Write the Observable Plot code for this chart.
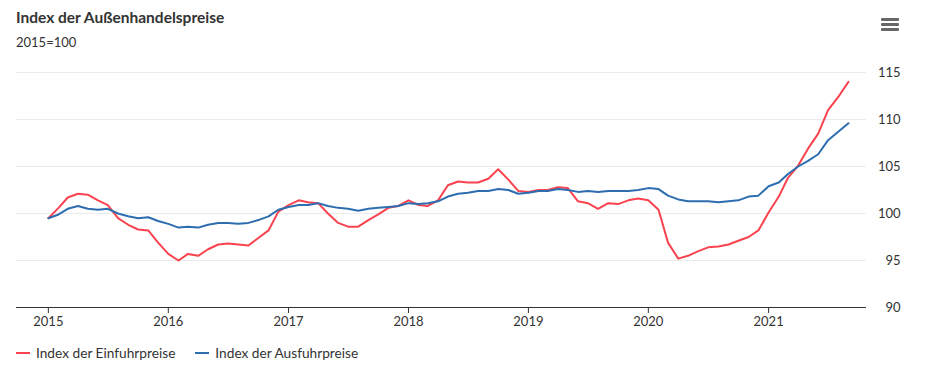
<!DOCTYPE html>
<html><head><meta charset="utf-8">
<script src="https://cdn.jsdelivr.net/npm/d3@7"></script>
<script src="https://cdn.jsdelivr.net/npm/@observablehq/plot@0.6"></script>
<style>
body{margin:0;background:#fff;font-family:"Source Sans Pro",Lato,sans-serif;color:#333;}
#wrap{position:relative;width:941px;height:372px;overflow:hidden;}
#title{position:absolute;left:16px;top:8px;font-size:15.5px;font-weight:700;color:#333;}
#sub{position:absolute;left:16px;top:34px;font-size:13px;color:#333;}
#menu{position:absolute;left:881px;top:18px;width:18px;}
#menu div{height:3px;background:#666;margin-bottom:2px;border-radius:1px;}
#chart{position:absolute;left:0;top:0;}
#legend{position:absolute;left:16px;top:344px;font-size:13.7px;color:#333;display:flex;align-items:center;}
.item{display:flex;align-items:center;margin-right:20px;}
.sw{width:14px;height:2px;margin-right:6px;}
</style></head>
<body><div id="wrap">
<div id="chart"></div>
<div id="title">Index der Außenhandelspreise</div>
<div id="sub">2015=100</div>
<div id="menu"><div></div><div></div><div></div></div>
<div id="legend"></div>
</div>
<script>
const seriesNames = ["Index der Einfuhrpreise", "Index der Ausfuhrpreise"];
const colors = ["#f9434f", "#2d6db0"];
const startMonth = "2015-01";
const einfuhr = [99.5,100.6,101.7,102.1,102.0,101.4,100.9,99.5,98.8,98.3,98.2,96.9,
95.7,95.0,95.7,95.5,96.2,96.7,96.8,96.7,96.6,97.4,98.2,100.2,
100.9,101.4,101.2,101.1,100.0,99.0,98.6,98.6,99.3,99.9,100.6,100.8,
101.4,100.9,100.8,101.4,103.0,103.4,103.3,103.3,103.7,104.7,103.6,102.4,
102.3,102.5,102.5,102.8,102.7,101.3,101.1,100.5,101.1,101.0,101.4,101.6,
101.4,100.4,96.9,95.2,95.5,96.0,96.4,96.5,96.7,97.1,97.5,98.2,
100.1,101.8,103.8,105.1,106.9,108.5,111.0,112.4,114.0];
const ausfuhr = [99.5,99.9,100.5,100.8,100.5,100.4,100.5,100.0,99.7,99.5,99.6,99.2,
98.9,98.5,98.6,98.5,98.8,99.0,99.0,98.9,99.0,99.3,99.7,100.4,
100.7,100.9,100.9,101.1,100.8,100.6,100.5,100.3,100.5,100.6,100.7,100.8,
101.1,101.0,101.1,101.3,101.8,102.1,102.2,102.4,102.4,102.6,102.5,102.1,
102.2,102.4,102.4,102.6,102.5,102.3,102.4,102.3,102.4,102.4,102.4,102.5,
102.7,102.6,101.9,101.5,101.3,101.3,101.3,101.2,101.3,101.4,101.8,101.9,
102.9,103.3,104.2,105.0,105.6,106.3,107.8,108.7,109.6];
const yTicks = [90,95,100,105,110,115];
const xTickYears = ["2015","2016","2017","2018","2019","2020","2021"];

const start = d3.utcParse("%Y-%m")(startMonth);
const rows = [];
[einfuhr, ausfuhr].forEach((vals, s) => vals.forEach((v, i) => rows.push({date: d3.utcMonth.offset(start, i), value: v, series: seriesNames[s]})));

const plot = Plot.plot({
  width: 941, height: 330,
  marginTop: 72, marginBottom: 23, marginLeft: 16, marginRight: 75,
  style: {fontFamily: '"Source Sans Pro",Lato,sans-serif', fontSize: "13px", color: "#333", background: "transparent", overflow: "visible"},
  x: {type: "utc", domain: [new Date(Date.UTC(2014,8,26)), new Date(Date.UTC(2021,9,26))]},
  y: {domain: [90, 115]},
  color: {domain: seriesNames, range: colors},
  marks: [
    Plot.gridY(yTicks.filter(t => t > 90), {stroke: "#ebebeb", strokeOpacity: 1}),
    Plot.axisY({anchor: "right", ticks: yTicks, tickSize: 0, tickPadding: 34, textAnchor: "end", label: null, fill: "#333"}),
    Plot.axisX({ticks: xTickYears.map(y => d3.utcParse("%Y")(y)), tickFormat: d3.utcFormat("%Y"), tickSize: 6, tickPadding: 3, label: null, stroke: "#333", fill: "#333"}),
    Plot.ruleY([90], {stroke: "#333", strokeWidth: 1}),
    Plot.line(rows, {x: "date", y: "value", z: "series", stroke: "series", strokeWidth: 2})
  ]
});
document.getElementById("chart").appendChild(plot);

const leg = document.getElementById("legend");
seriesNames.forEach((n, i) => {
  const it = document.createElement("div"); it.className = "item";
  const sw = document.createElement("div"); sw.className = "sw"; sw.style.background = colors[i];
  const t = document.createElement("span"); t.textContent = n;
  it.appendChild(sw); it.appendChild(t); leg.appendChild(it);
});
</script></body></html>
